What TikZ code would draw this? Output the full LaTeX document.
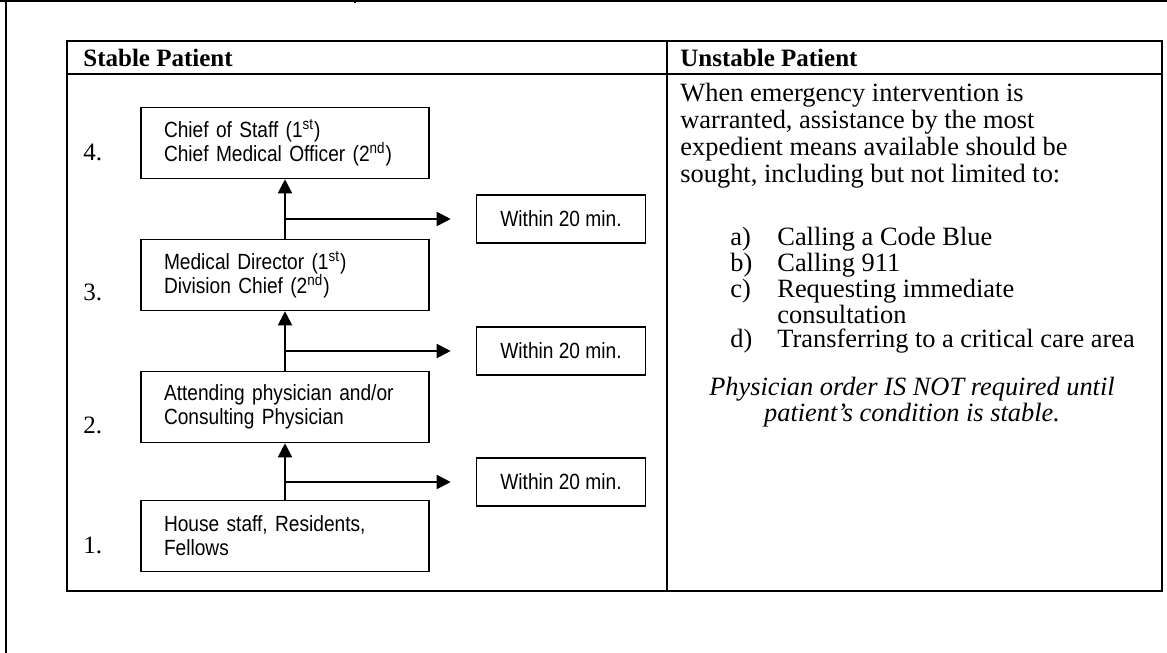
\documentclass[tikz,border=0pt]{standalone}
\usepackage{fontspec}
\setmainfont{Liberation Serif}
\newfontfamily\boxfont[FakeStretch=0.87]{Liberation Sans}
\usetikzlibrary{arrows.meta,positioning}

\tikzset{
  rank/.style={draw, line width=0.8pt, minimum width=144pt, minimum height=35.5pt,
    inner sep=0pt, text width=121pt, align=left, font=\boxfont\fontsize{11}{12}\selectfont},
  timebox/.style={draw, line width=0.8pt, minimum width=84.5pt, minimum height=24pt,
    inner sep=0pt, font=\boxfont\fontsize{11}{12}\selectfont},
  num/.style={anchor=west, inner sep=0pt, font=\fontsize{12.5}{14}\selectfont},
  up/.style={line width=1pt, -{Triangle[length=7pt,width=7pt]}},
  body/.style={inner sep=0pt, font=\fontsize{13.2}{13.5}\selectfont},
}

\begin{document}
\begin{tikzpicture}[x=0.5pt,y=-0.5pt]
  \useasboundingbox (0,0) rectangle (1167,653);
  % page frame
  \draw[line width=1.2pt] (0,1) -- (1167,1);
  \draw[line width=1pt] (6,0) -- (6,653);
  \draw[line width=1pt] (355,0) -- (355,3);
  % table
  \draw[line width=1.3pt] (67,41) rectangle (1162,591);
  \draw[line width=1.2pt] (67,74) -- (1162,74);
  \draw[line width=1pt] (667,41) -- (667,591);
  \node[anchor=west, inner sep=0pt, font=\bfseries\fontsize{12.5}{14}\selectfont] (stable) at (83,58) {Stable Patient};
  \node[anchor=west, inner sep=0pt, font=\bfseries\fontsize{12.5}{14}\selectfont] (unstable) at (680,58) {Unstable Patient};

  % escalation ladder
  \node[rank] (chief) at (285,143) {Chief of Staff (1\textsuperscript{st})\\Chief Medical Officer (2\textsuperscript{nd})};
  \node[rank] (meddir) at (285,275) {Medical Director (1\textsuperscript{st})\\Division Chief (2\textsuperscript{nd})};
  \node[rank] (attend) at (285,407) {Attending physician and/or\\Consulting Physician};
  \node[rank] (house) at (285,536) {House staff, Residents,\\Fellows};

  \node[num] (n4) at (83,152) {4.};
  \node[num] (n3) at (83,292) {3.};
  \node[num] (n2) at (83,425) {2.};
  \node[num] (n1) at (83,545) {1.};

  \node[timebox] (win3) at (561,219) {Within 20 min.};
  \node[timebox] (win2) at (561,351) {Within 20 min.};
  \node[timebox] (win1) at (561,482) {Within 20 min.};

  \draw[up] (house.north) -- (attend.south);
  \draw[up] (attend.north) -- (meddir.south);
  \draw[up] (meddir.north) -- (chief.south);
  \draw[up, shorten >=12.5pt] (house.north |- win1.west) -- (win1.west);
  \draw[up, shorten >=12.5pt] (attend.north |- win2.west) -- (win2.west);
  \draw[up, shorten >=12.5pt] (meddir.north |- win3.west) -- (win3.west);

  % unstable patient column
  \node[body, anchor=north west, align=left] (when) at (680,83)
    {When emergency intervention is\\warranted, assistance by the most\\expedient means available should be\\sought, including but not limited to:};
  \node[body, anchor=north west, align=left, font=\fontsize{13.2}{12}\selectfont] (means) at (730,227)
    {\makebox[23.5pt][l]{a)}Calling a Code Blue\\
     \makebox[23.5pt][l]{b)}Calling 911\\
     \makebox[23.5pt][l]{c)}Requesting immediate\\
     \hspace*{23.5pt}consultation\\
     \makebox[23.5pt][l]{d)}Transferring to a critical care area};
  \node[body, align=center, font=\itshape\fontsize{13.2}{12}\selectfont] (order) at (912,402)
    {Physician order IS NOT required until\\patient's condition is stable.};
\end{tikzpicture}
\end{document}
